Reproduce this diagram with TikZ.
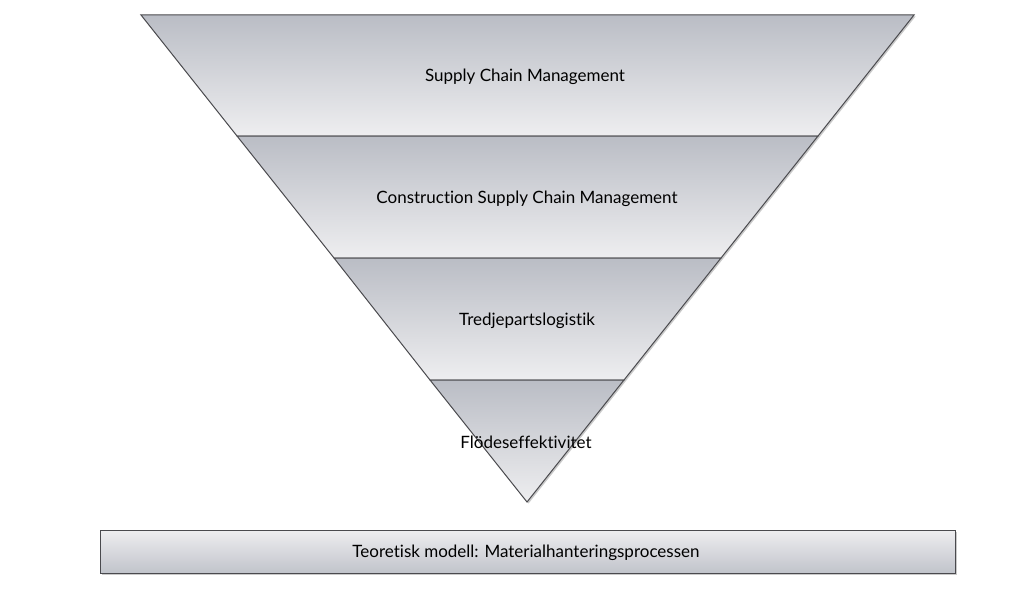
\documentclass[tikz,border=0pt]{standalone}
\usepackage{fontspec}
\setmainfont{Lato}[RawFeature=-liga]
\usetikzlibrary{shadows}
\definecolor{bandtop}{HTML}{BABDC5}
\definecolor{bandbot}{HTML}{EEEEF0}
\definecolor{edge}{HTML}{4A4A4E}
\tikzset{
  band/.style={top color=bandtop, bottom color=bandbot, draw=edge, line width=1pt,
    drop shadow={shadow xshift=1.5pt, shadow yshift=-1.5pt, opacity=0.35, fill=black!60}},
  basebox/.style={top color=bandbot, bottom color=bandtop!90, draw=edge, line width=1pt,
    drop shadow={shadow xshift=1.5pt, shadow yshift=-1.5pt, opacity=0.35, fill=black!60}},
  lbl/.style={font=\fontsize{17}{20}\selectfont, text=black, inner sep=0pt}
}
\begin{document}
\begin{tikzpicture}[x=1pt,y=-1pt]
\useasboundingbox (0,0) rectangle (1024,594);
\fill[white] (0,0) rectangle (1024,594);
% bands
\path[band] (141,15) -- (914,15) -- (818,136) -- (237,136) -- cycle;
\path[band] (237,136) -- (818,136) -- (721,258) -- (334,258) -- cycle;
\path[band] (334,258) -- (721,258) -- (624,380) -- (430,380) -- cycle;
\path[band] (430,380) -- (624,380) -- (527,502) -- cycle;
\path[basebox] (100,530) rectangle (955,573);
\node[lbl] (scm) at (525,77) {Supply Chain Management};
\node[lbl] (cscm) at (527,199) {Construction Supply Chain Management};
\node[lbl] (tpl) at (527,321) {Tredjepartslogistik};
\node[lbl] (fe) at (526,442) {Flödeseffektivitet};
\node[lbl] (tm) at (526,553) {Teoretisk modell: Materialhanteringsprocessen};
\end{tikzpicture}
\end{document}
